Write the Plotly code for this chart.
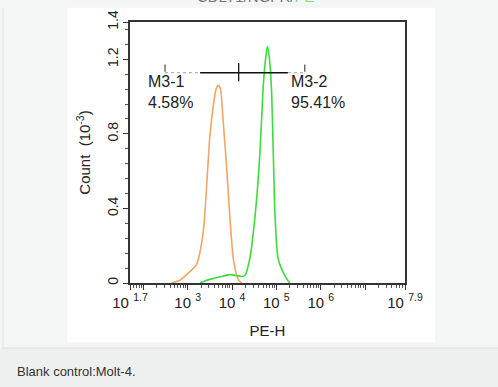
import plotly.graph_objects as go

# ---- data (log10 of PE-H intensity, count in 10^3) ----
orange_logx = [2.64, 2.83, 3.0, 3.20, 3.35, 3.43, 3.50, 3.58, 3.64, 3.69, 3.74, 3.80, 3.88, 3.95, 4.03, 4.14, 4.22]
orange_count = [0.0, 0.015, 0.05, 0.10, 0.27, 0.53, 0.785, 0.955, 1.04, 1.06, 1.04, 0.87, 0.615, 0.36, 0.13, 0.02, 0.0]

green_logx = [3.28, 3.43, 3.60, 3.73, 3.95, 4.10, 4.22, 4.29, 4.40, 4.52, 4.63, 4.70, 4.76, 4.80, 4.84, 4.89, 4.93, 4.97, 5.04, 5.19, 5.30]
green_count = [0.0, 0.015, 0.025, 0.033, 0.045, 0.04, 0.035, 0.04, 0.13, 0.36, 0.70, 1.04, 1.21, 1.27, 1.21, 1.04, 0.70, 0.36, 0.13, 0.04, 0.0]

marker_bounds_log = [2.49, 4.15, 5.64]
marker_solid_log = [3.28, 5.26]
marker_level = 1.128
marker_names = ["M3-1", "M3-2"]
marker_pcts = ["4.58%", "95.41%"]

x_major_log = [1.7, 2, 3, 4, 5, 6, 7, 7.9]
x_major_text = ["10 <sup>1.7</sup>", "", "10 <sup>3</sup>", "10 <sup>4</sup>", "10 <sup>5</sup>",
                "10 <sup>6</sup>", "", "10 <sup>7.9</sup>"]
y_major = [0, 0.4, 0.8, 1.2, 1.3999]
y_major_text = ["0", "0.4", "0.8", "1.2", "1.4"]
caption = "Blank control:Molt-4."

FONT = "Liberation Sans, Arial, sans-serif"
W, H = 498, 387
L, R, T, B = 130, 405, 10, 283  # plot area in pixels


def px_x(p):
    return (p - L) / (R - L)


def px_y(p):
    return (B - p) / (B - T)


fig = go.Figure()

fig.add_trace(go.Scatter(x=[10 ** v for v in orange_logx], y=orange_count, mode="lines",
                         line=dict(color="#f4a468", width=1.6, shape="spline", smoothing=0.6),
                         showlegend=False, hoverinfo="skip"))
fig.add_trace(go.Scatter(x=[10 ** v for v in green_logx], y=green_count, mode="lines",
                         line=dict(color="#3ddc3d", width=1.6, shape="spline", smoothing=0.6),
                         showlegend=False, hoverinfo="skip"))

# marker bar: dotted outer parts, solid middle
lo, mid, hi = marker_bounds_log
s0, s1 = marker_solid_log
fig.add_trace(go.Scatter(x=[10 ** lo, 10 ** s0], y=[marker_level] * 2, mode="lines",
                         line=dict(color="#b5b5b5", width=1.2, dash="dot"), showlegend=False, hoverinfo="skip"))
fig.add_trace(go.Scatter(x=[10 ** s1, 10 ** hi], y=[marker_level] * 2, mode="lines",
                         line=dict(color="#b5b5b5", width=1.2, dash="dot"), showlegend=False, hoverinfo="skip"))
fig.add_trace(go.Scatter(x=[10 ** s0, 10 ** s1], y=[marker_level] * 2, mode="lines",
                         line=dict(color="#111", width=1.4), showlegend=False, hoverinfo="skip"))
for v, (a, b) in zip([lo, mid, hi], [(1.133, 1.172), (1.082, 1.18), (1.133, 1.172)]):
    fig.add_trace(go.Scatter(x=[10 ** v, 10 ** v], y=[a, b], mode="lines",
                             line=dict(color="#111" if v == mid else "#555", width=1.3),
                             showlegend=False, hoverinfo="skip"))

# marker labels
fig.add_annotation(x=px_x(146), y=px_y(83), xref="paper", yref="paper", xanchor="left", yanchor="middle",
                   text=marker_names[0] + "<br>" + marker_pcts[0], showarrow=False, align="left",
                   font=dict(family=FONT, size=16, color="#222"))
fig.add_annotation(x=px_x(289), y=px_y(83), xref="paper", yref="paper", xanchor="left", yanchor="middle",
                   text=marker_names[1] + "<br>" + marker_pcts[1], showarrow=False, align="left",
                   font=dict(family=FONT, size=16, color="#222"))

# partially visible title at top
fig.add_annotation(x=px_x(195), y=px_y(-5.5), xref="paper", yref="paper", xanchor="left", yanchor="bottom",
                   text="CD271/NGFR/<span style='color:#7ddc7d'>PE</span>", showarrow=False,
                   font=dict(family=FONT, size=15, color="#777"))

# caption
fig.add_annotation(x=px_x(15), y=px_y(376), xref="paper", yref="paper", xanchor="left", yanchor="middle",
                   text=caption, showarrow=False, font=dict(family=FONT, size=13, color="#333"))

shapes = [
    dict(type="rect", xref="paper", yref="paper", x0=px_x(67), x1=px_x(435), y0=px_y(345), y1=px_y(-5),
         fillcolor="white", line=dict(width=0), layer="below"),
    dict(type="rect", xref="paper", yref="paper", x0=px_x(-5), x1=px_x(505), y0=px_y(392), y1=px_y(351),
         fillcolor="#eeefef", line=dict(width=0), layer="below"),
    dict(type="line", xref="paper", yref="paper", x0=px_x(3), x1=px_x(505), y0=px_y(351), y1=px_y(351),
         line=dict(color="#dcdcdc", width=1), layer="below"),
    dict(type="line", xref="paper", yref="paper", x0=px_x(3), x1=px_x(3), y0=px_y(351), y1=px_y(-5),
         line=dict(color="#e0e0e0", width=1), layer="below"),
]

x_minor = []
for d in range(1, 8):
    for m in range(2, 10):
        v = m * 10 ** d
        if 10 ** 1.7 < v < 10 ** 7.9:
            x_minor.append(v)
y_minor = [round(0.08 * i, 2) for i in range(1, 18) if round(0.08 * i, 2) % 0.4 > 1e-6]

fig.update_layout(
    width=W, height=H,
    margin=dict(l=L, r=W - R, t=T, b=H - B),
    paper_bgcolor="#f4f5f5", plot_bgcolor="white",
    shapes=shapes,
    font=dict(family=FONT, size=13, color="#222"),
    xaxis=dict(type="log", range=[1.7, 7.9], showgrid=False, zeroline=False,
               showline=True, linecolor="#333", linewidth=1.5, mirror=True,
               tickmode="array", tickvals=[10 ** v for v in x_major_log], ticktext=x_major_text,
               ticks="outside", ticklen=5, tickwidth=1.3, tickcolor="#333",
               tickfont=dict(family=FONT, size=15, color="#222"),
               minor=dict(tickmode="array", tickvals=x_minor, ticks="outside", ticklen=3,
                          tickwidth=1, tickcolor="#555"),
               title=dict(text="PE-H", font=dict(family=FONT, size=15, color="#222"), standoff=16)),
    yaxis=dict(range=[0, 1.4], showgrid=False, zeroline=False,
               showline=True, linecolor="#333", linewidth=1.5, mirror=True,
               tickmode="array", tickvals=y_major, ticktext=y_major_text, tickangle=-90,
               ticklabeloverflow="allow",
               ticks="outside", ticklen=5, tickwidth=1.3, tickcolor="#333",
               tickfont=dict(family=FONT, size=14, color="#222"),
               minor=dict(tickmode="array", tickvals=y_minor, ticks="outside", ticklen=3,
                          tickwidth=1, tickcolor="#555"),
               title=dict(text="Count  (10<sup>-3</sup>)", font=dict(family=FONT, size=15, color="#222"),
                          standoff=10)),
)

fig.write_html("out.html", config={"displayModeBar": False},
               post_script="document.body.style.margin='0';")
